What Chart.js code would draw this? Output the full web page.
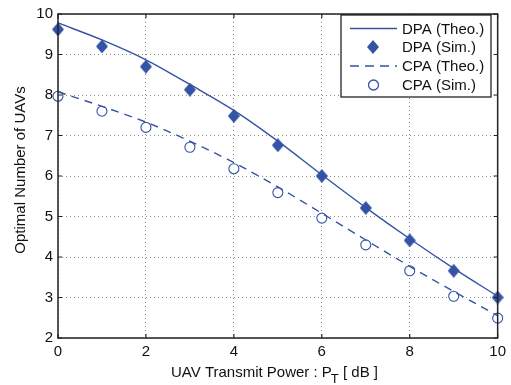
<!DOCTYPE html>
<html>
<head>
<meta charset="utf-8">
<script src="https://cdn.jsdelivr.net/npm/chart.js@4"></script>
<style>
html, body { margin: 0; padding: 0; background: #fff; }
</style>
</head>
<body>
<canvas id="chart" width="511" height="385"></canvas>
<script>
// data
const powers = [0, 1, 2, 3, 4, 5, 6, 7, 8, 9, 10];
const dpaTheo = [9.78, 9.36, 8.87, 8.26, 7.62, 6.86, 6.03, 5.22, 4.45, 3.72, 3.03];
const dpaSim = [9.62, 9.20, 8.70, 8.13, 7.48, 6.76, 6.00, 5.21, 4.41, 3.66, 3.00];
const cpaTheo = [8.08, 7.72, 7.33, 6.86, 6.33, 5.73, 5.08, 4.42, 3.77, 3.15, 2.55];
const cpaSim = [7.97, 7.60, 7.20, 6.71, 6.18, 5.59, 4.96, 4.30, 3.66, 3.03, 2.49];
const xTicks = [0, 2, 4, 6, 8, 10];
const yTicks = [2, 3, 4, 5, 6, 7, 8, 9, 10];
const legendNames = ['DPA (Theo.)', 'DPA (Sim.)', 'CPA (Theo.)', 'CPA (Sim.)'];

const blue = '#3453a4';
const font = '"Liberation Sans", Arial, sans-serif';

// diamond marker (a bit taller than wide)
const diamond = document.createElement('canvas');
diamond.width = 12;
diamond.height = 14;
const dctx = diamond.getContext('2d');
dctx.fillStyle = blue;
dctx.beginPath();
dctx.moveTo(6, 0);
dctx.lineTo(12, 7);
dctx.lineTo(6, 14);
dctx.lineTo(0, 7);
dctx.closePath();
dctx.fill();

const pts = (ys) => powers.map((p, i) => ({ x: p, y: ys[i] }));

// frame, inner ticks, legend box and axis titles
const decorations = {
  id: 'decorations',
  afterDraw(chart) {
    const ctx = chart.ctx;
    const a = chart.chartArea;
    const xs = chart.scales.x, ys = chart.scales.y;
    ctx.save();

    ctx.strokeStyle = '#222';
    ctx.lineWidth = 1.2;
    ctx.beginPath();
    xTicks.forEach(v => {
      const px = xs.getPixelForValue(v);
      ctx.moveTo(px, a.bottom); ctx.lineTo(px, a.bottom - 4);
      ctx.moveTo(px, a.top); ctx.lineTo(px, a.top + 4);
    });
    yTicks.forEach(v => {
      const py = ys.getPixelForValue(v);
      ctx.moveTo(a.left, py); ctx.lineTo(a.left + 4, py);
      ctx.moveTo(a.right, py); ctx.lineTo(a.right - 4, py);
    });
    ctx.stroke();
    ctx.lineWidth = 1.5;
    ctx.strokeRect(a.left, a.top, a.right - a.left, a.bottom - a.top);

    // legend
    const lx = 341, ly = 15, lw = 150, lh = 82;
    ctx.fillStyle = '#fff';
    ctx.fillRect(lx, ly, lw, lh);
    ctx.strokeStyle = '#111';
    ctx.lineWidth = 1.2;
    ctx.strokeRect(lx, ly, lw, lh);
    const rows = [28.5, 47, 66, 85];
    ctx.font = '15px ' + font;
    ctx.textBaseline = 'middle';
    ctx.textAlign = 'left';
    rows.forEach((ry, i) => {
      ctx.strokeStyle = blue;
      ctx.lineWidth = 1.3;
      if (i === 0 || i === 2) {
        ctx.setLineDash(i === 2 ? [9, 6] : []);
        ctx.beginPath();
        ctx.moveTo(350, ry); ctx.lineTo(397, ry);
        ctx.stroke();
        ctx.setLineDash([]);
      } else if (i === 1) {
        ctx.drawImage(diamond, 373 - 6, ry - 7);
      } else {
        ctx.fillStyle = '#fff';
        ctx.beginPath();
        ctx.arc(373.5, ry, 5, 0, Math.PI * 2);
        ctx.fill();
        ctx.stroke();
      }
      ctx.fillStyle = '#111';
      ctx.fillText(legendNames[i], 402, ry + 1);
    });

    // x title with subscript T
    ctx.fillStyle = '#111';
    ctx.textBaseline = 'alphabetic';
    ctx.textAlign = 'left';
    const p1 = 'UAV Transmit Power : P';
    const p2 = 'T';
    const p3 = ' [ dB ]';
    ctx.font = '15px ' + font;
    const w1 = ctx.measureText(p1).width;
    const w3 = ctx.measureText(p3).width;
    ctx.font = '13px ' + font;
    const w2 = ctx.measureText(p2).width;
    const tx = 171 + (208 - (w1 + w2 + w3)) / 2;
    const base = 377;
    ctx.font = '15px ' + font;
    ctx.fillText(p1, tx, base);
    ctx.fillText(p3, tx + w1 + w2 - 1, base);
    ctx.font = '13px ' + font;
    ctx.fillText(p2, tx + w1 - 1, base + 6);

    // y title
    ctx.font = '15px ' + font;
    ctx.translate(21, 170);
    ctx.rotate(-Math.PI / 2);
    ctx.textAlign = 'center';
    ctx.textBaseline = 'middle';
    ctx.fillText('Optimal Number of UAVs', 0, 0);
    ctx.restore();
  }
};

new Chart(document.getElementById('chart'), {
  type: 'line',
  data: {
    datasets: [
      {
        label: legendNames[0],
        data: pts(dpaTheo),
        borderColor: blue,
        borderWidth: 1.4,
        pointRadius: 0,
        tension: 0.4,
        cubicInterpolationMode: 'monotone',
        clip: false
      },
      {
        label: legendNames[1],
        data: pts(dpaSim),
        showLine: false,
        pointStyle: diamond,
        pointRadius: 6,
        clip: false
      },
      {
        label: legendNames[2],
        data: pts(cpaTheo),
        borderColor: blue,
        borderWidth: 1.4,
        borderDash: [8, 6],
        pointRadius: 0,
        tension: 0.4,
        cubicInterpolationMode: 'monotone',
        clip: false
      },
      {
        label: legendNames[3],
        data: pts(cpaSim),
        showLine: false,
        pointStyle: 'circle',
        pointRadius: 5,
        pointBorderWidth: 1.1,
        pointBorderColor: blue,
        pointBackgroundColor: '#fff',
        clip: false
      }
    ]
  },
  options: {
    responsive: false,
    animation: false,
    devicePixelRatio: 1,
    layout: { padding: { top: 7, right: 13, left: 0, bottom: 0 } },
    plugins: {
      legend: { display: false },
      tooltip: { enabled: false }
    },
    scales: {
      x: {
        type: 'linear',
        min: 0,
        max: 10,
        afterBuildTicks: (s) => { s.ticks = xTicks.map(v => ({ value: v })); },
        afterFit: (s) => { s.height = 47; },
        ticks: { color: '#111', font: { size: 15, family: font }, padding: 5, maxRotation: 0 },
        grid: { color: '#8a8a8a', lineWidth: 1, drawTicks: false },
        border: { display: false, dash: [1, 3] }
      },
      y: {
        min: 2,
        max: 10,
        afterBuildTicks: (s) => { s.ticks = yTicks.map(v => ({ value: v })); },
        afterFit: (s) => { s.width = 58; },
        ticks: { color: '#111', font: { size: 15, family: font }, padding: 5 },
        grid: { color: '#8a8a8a', lineWidth: 1, drawTicks: false },
        border: { display: false, dash: [1, 3] }
      }
    }
  },
  plugins: [decorations]
});
</script>
</body>
</html>
